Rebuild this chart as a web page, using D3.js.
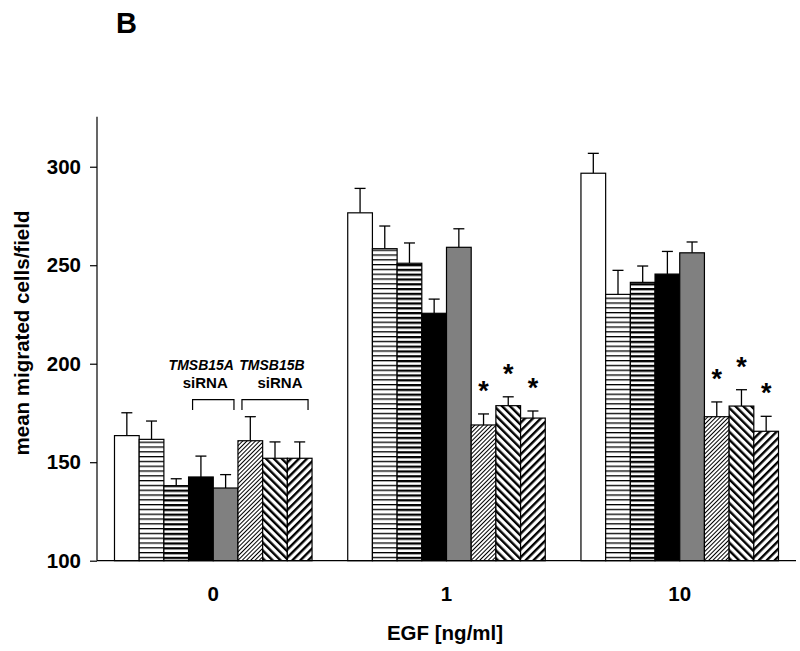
<!DOCTYPE html>
<html><head><meta charset="utf-8">
<script src="https://cdn.jsdelivr.net/npm/d3@7"></script>
<style>body{margin:0;background:#fff}svg{display:block}text{font-family:"Liberation Sans",Arial,sans-serif;font-weight:bold;fill:#000}</style>
</head><body><svg id="c" width="800" height="651"></svg>
<script>
const groups = ["0", "1", "10"];
const series = ["control", "neg siRNA 1", "neg siRNA 2", "TMSB15A si1", "TMSB15A si2", "TMSB15B si1", "TMSB15B si2", "TMSB15B si3"];
const means = [
  [163.5, 161.6, 138.1, 142.5, 136.9, 160.9, 152.0, 152.0],
  [276.6, 258.4, 251.0, 225.6, 259.1, 168.9, 178.7, 172.4],
  [296.7, 235.2, 241.3, 245.5, 256.3, 173.1, 178.5, 165.7]
];
const errors = [
  [11.6, 9.3, 3.5, 10.6, 6.8, 12.2, 8.3, 8.3],
  [12.4, 11.5, 10.3, 7.2, 9.4, 5.6, 4.5, 3.6],
  [10.1, 12.2, 8.3, 11.5, 5.5, 7.5, 8.3, 7.6]
];
const significant = [
  [false, false, false, false, false, false, false, false],
  [false, false, false, false, false, true, true, true],
  [false, false, false, false, false, true, true, true]
];
const yTicks = [100, 150, 200, 250, 300];
const fills = ["#ffffff", "url(#hLight)", "url(#hDense)", "#000000", "#808080", "url(#dFine)", "url(#dBack)", "url(#dFwd)"];

const svg = d3.select("#c");
const defs = svg.append("defs");
function hPat(id, period, th) {
  const p = defs.append("pattern").attr("id", id).attr("patternUnits", "userSpaceOnUse")
    .attr("width", 10).attr("height", period);
  p.append("rect").attr("width", 10).attr("height", period).attr("fill", "#fff");
  p.append("rect").attr("y", 0).attr("width", 10).attr("height", th).attr("fill", "#000");
}
hPat("hLight", 4.8, 1.3);
hPat("hDense", 4.8, 2.3);
function dPat(id, size, th, angle) {
  const p = defs.append("pattern").attr("id", id).attr("patternUnits", "userSpaceOnUse")
    .attr("width", size).attr("height", size).attr("patternTransform", "rotate(" + angle + ")");
  p.append("rect").attr("width", size).attr("height", size).attr("fill", "#fff");
  p.append("rect").attr("x", 0).attr("width", th).attr("height", size).attr("fill", "#000");
}
dPat("dFine", 3, 1, 45);
dPat("dBack", 5.6, 2.4, -45);
dPat("dFwd", 5.6, 2.4, 45);

const y = d3.scaleLinear().domain([100, 325.4]).range([560.7, 116.7]);
const x0 = d3.scaleBand().domain(groups).range([97, 796]).paddingInner(0.153).paddingOuter(0.075);
const x1 = d3.scaleBand().domain(series).range([0, x0.bandwidth()]);

// bars
groups.forEach((g, gi) => {
  const gg = svg.append("g").attr("transform", `translate(${x0(g)},0)`);
  series.forEach((s, si) => {
    const v = means[gi][si], e = errors[gi][si];
    const bx = x1(s), bw = x1.bandwidth(), cx = bx + bw / 2;
    gg.append("line").attr("x1", cx).attr("x2", cx).attr("y1", y(v)).attr("y2", y(v + e))
      .attr("stroke", "#000").attr("stroke-width", 1.3);
    gg.append("line").attr("x1", cx - 5.5).attr("x2", cx + 5.5).attr("y1", y(v + e)).attr("y2", y(v + e))
      .attr("stroke", "#000").attr("stroke-width", 1.3);
    gg.append("rect").attr("x", bx).attr("width", bw).attr("y", y(v)).attr("height", y(100) - y(v))
      .attr("fill", fills[si]).attr("stroke", "#000").attr("stroke-width", 1.2);
    if (significant[gi][si]) {
      gg.append("text").attr("x", cx).attr("y", y(v + e) - 14).attr("text-anchor", "middle")
        .style("font-size", "27px").text("*");
    }
  });
});

// axes
const yAxis = svg.append("g").attr("transform", "translate(97,0)")
  .call(d3.axisLeft(y).tickValues(yTicks).tickSize(7).tickPadding(9).tickFormat(d3.format("d")));
yAxis.select(".domain").attr("d", `M0,${y(100)}V${y(325.4)}`).attr("stroke", "#000").attr("stroke-width", 1.2);
yAxis.selectAll(".tick line").attr("stroke", "#000").attr("stroke-width", 1.2);
yAxis.selectAll("text").style("font-size", "20.5px").style("font-family", "Liberation Sans, Arial, sans-serif").style("font-weight", "bold").attr("fill", "#000");

svg.append("line").attr("x1", 97).attr("x2", 796).attr("y1", y(100)).attr("y2", y(100))
  .attr("stroke", "#000").attr("stroke-width", 1.2);

groups.forEach(g => {
  svg.append("text").attr("x", x0(g) + x0.bandwidth() / 2).attr("y", 601).attr("text-anchor", "middle")
    .style("font-size", "20.5px").text(g);
});
svg.append("text").attr("x", 445).attr("y", 640).attr("text-anchor", "middle").style("font-size", "20.5px").text("EGF [ng/ml]");
svg.append("text").attr("transform", "translate(29,333) rotate(-90)").attr("text-anchor", "middle")
  .style("font-size", "20.5px").text("mean migrated cells/field");
svg.append("text").attr("x", 116).attr("y", 33).style("font-size", "29px").text("B");

// siRNA annotations
const g0 = x0("0");
function bracket(s1, s2, label, dxLabel, dxSi) {
  const xa = g0 + x1(s1) + 4, xb = g0 + x1(s2) + x1.bandwidth() - 4;
  svg.append("path").attr("d", `M${xa},410V399.7H${xb}V410`).attr("fill", "none").attr("stroke", "#000").attr("stroke-width", 1.2);
  const cx = (xa + xb) / 2;
  svg.append("text").attr("x", cx + dxLabel).attr("y", 370).attr("text-anchor", "middle").style("font-size", "14px")
    .style("font-style", "italic").text(label);
  svg.append("text").attr("x", cx + dxSi).attr("y", 388).attr("text-anchor", "middle").style("font-size", "15px").text("siRNA");
}
bracket(series[3], series[4], "TMSB15A", -12, -8);
bracket(series[5], series[7], "TMSB15B", -3, 5);
</script></body></html>
